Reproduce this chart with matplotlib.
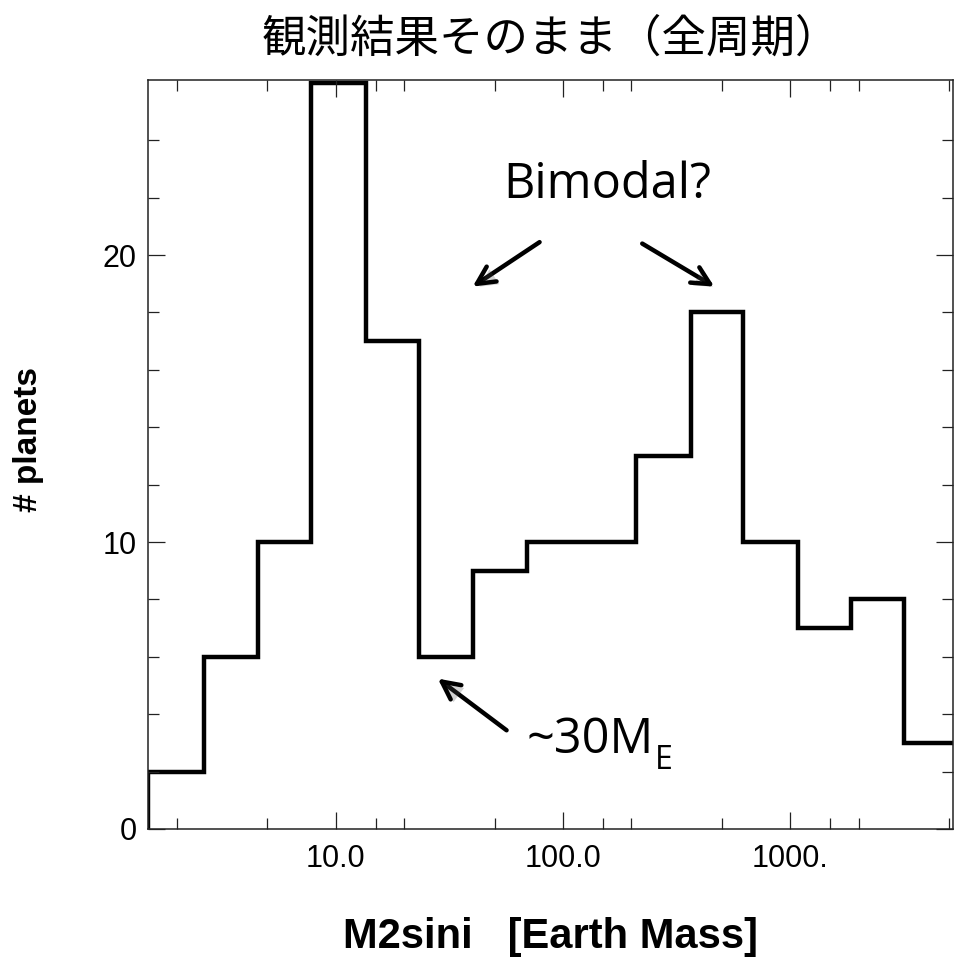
import matplotlib
matplotlib.use("Agg")
import matplotlib.pyplot as plt
import matplotlib.patheffects as pe
from matplotlib.ticker import FixedLocator, FixedFormatter, NullFormatter

bordes = [1.49, 2.62, 4.53, 7.77, 13.55, 23.3, 40.2, 69.5, 120.6,
          210.4, 367.1, 618.3, 1077.0, 1849.0, 3171.0, 5445.0]
planetas = [2, 6, 10, 26, 17, 6, 9, 10, 10, 13, 18, 10, 7, 8, 3]

ticks_mayores = [10, 100, 1000]
etiquetas_x = ["10.0", "100.0", "1000."]
ticks_menores = [2, 5, 15, 20, 50, 150, 200, 500, 1500, 2000, 5000]

fuente_ejes = "Liberation Sans"
fuente_notas = "Open Sans"

fig = plt.figure(figsize=(9.55, 9.6), dpi=100)
ax = fig.add_axes([148 / 955, 1 - 829 / 960, (953 - 148) / 955, (829 - 80) / 960])

ax.stairs(planetas, bordes, baseline=0, color="black", linewidth=3.2)

ax.set_xscale("log")
ax.set_xlim(1.49, 5200)
ax.set_ylim(0, 26.1)

ax.xaxis.set_major_locator(FixedLocator(ticks_mayores))
ax.xaxis.set_major_formatter(FixedFormatter(etiquetas_x))
ax.xaxis.set_minor_locator(FixedLocator(ticks_menores))
ax.xaxis.set_minor_formatter(NullFormatter())
ax.yaxis.set_major_locator(FixedLocator([0, 10, 20]))
ax.yaxis.set_minor_locator(FixedLocator(range(2, 26, 2)))

ax.tick_params(which="both", direction="in", top=True, right=True, width=0.9, color="#222222")
ax.tick_params(which="major", length=12)
ax.tick_params(which="minor", length=8)
ax.tick_params(axis="x", which="major", pad=11, labelsize=22)
ax.tick_params(axis="y", which="major", pad=8, labelsize=22)
for lab in ax.get_xticklabels() + ax.get_yticklabels():
    lab.set_fontfamily(fuente_ejes)
for sp in ax.spines.values():
    sp.set_linewidth(1.1)
    sp.set_color("#222222")

fig.text(0.5 * (148 + 953) / 955, 1 - 937 / 960, "M2sini   [Earth Mass]",
         ha="center", va="center", fontsize=30, fontweight="bold", family=fuente_ejes)
fig.text(28 / 955, 1 - 440 / 960, "# planets", rotation=90, ha="center", va="center",
         fontsize=24, fontweight="bold", family=fuente_ejes)

fig.text(0.5 * (148 + 953) / 955, 1 - 39 / 960, "観測結果そのまま（全周期）",
         ha="center", va="center", fontsize=32, family=["Noto Sans CJK JP", "DejaVu Sans"])

# Anotaciones
sombra = [pe.withSimplePatchShadow(offset=(2, -2), alpha=0.25)]
flecha = dict(arrowstyle="->", lw=3.2, color="black", mutation_scale=32,
              shrinkA=0, shrinkB=0, path_effects=sombra)

ax.text(157, 22.0, "Bimodal?", ha="center", va="baseline", fontsize=35, family=fuente_notas)
ax.annotate("", xy=(40.0, 18.9), xytext=(78.8, 20.45), arrowprops=flecha)
ax.annotate("", xy=(463, 18.9), xytext=(223, 20.4), arrowprops=flecha)
ax.annotate("", xy=(28.1, 5.24), xytext=(56.4, 3.44), arrowprops=flecha)
t30 = ax.text(69.1, 2.64, "~30M", ha="left", va="baseline", fontsize=35, family=fuente_notas)
ax.annotate("E", xy=(1, 0), xycoords=t30, xytext=(1, -3), textcoords="offset points",
            ha="left", va="baseline", fontsize=23, family=fuente_notas)

fig.savefig("out.png", dpi=100)
